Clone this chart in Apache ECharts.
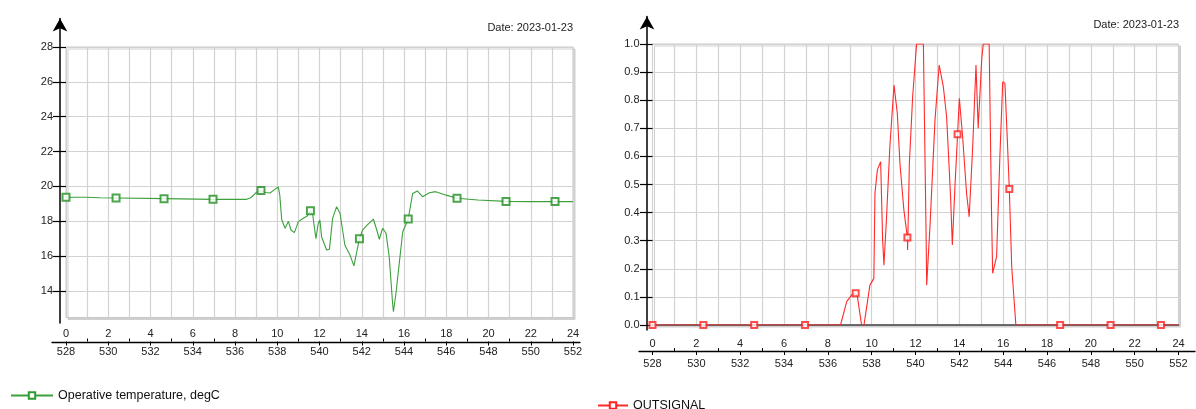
<!DOCTYPE html>
<html>
<head>
<meta charset="utf-8">
<script src="https://cdn.jsdelivr.net/npm/echarts@6/dist/echarts.min.js"></script>
<style>
html,body{margin:0;padding:0;background:#fff;}
#c{width:1196px;height:409px;}
</style>
</head>
<body>
<div id="c"></div>
<script>
// ---------- data ----------
const dateLabel = 'Date: 2023-01-23';
const hourOfYearOffset = 528;
const hourTicks = [0,2,4,6,8,10,12,14,16,18,20,22,24];
const hourMinorTicks = [1,3,5,7,9,11,13,15,17,19,21,23];
const tempTicks = [14,16,18,20,22,24,26,28];
const signalTicks = [0,0.1,0.2,0.3,0.4,0.5,0.6,0.7,0.8,0.9,1.0];

const tempName = 'Operative temperature, degC';
const tempHours = [0,1.0,1.6,2.37,4.64,6.96,8.55,8.75,9.0,9.23,9.45,9.66,9.85,10.05,10.12,10.21,10.37,10.53,10.65,10.81,11.0,11.23,11.42,11.57,11.68,11.83,11.94,12.02,12.1,12.34,12.47,12.62,12.81,12.97,13.2,13.44,13.63,13.89,14.04,14.23,14.55,14.71,14.83,14.99,15.15,15.3,15.46,15.5,15.62,15.81,15.94,16.2,16.41,16.63,16.88,17.2,17.5,18.0,18.51,19.5,20.83,22.0,24.0];
const tempValues = [19.38,19.38,19.35,19.34,19.3,19.26,19.26,19.35,19.65,19.77,19.65,19.62,19.8,19.97,19.5,18.1,17.6,18.0,17.5,17.35,17.98,18.17,18.3,18.6,18.36,17.0,17.88,18.07,17.1,16.35,16.4,18.17,18.84,18.46,16.64,16.07,15.44,17.0,17.5,17.75,18.13,17.5,16.97,17.6,17.31,15.97,13.3,12.81,13.87,15.97,17.4,18.13,19.6,19.74,19.41,19.64,19.7,19.5,19.32,19.22,19.14,19.13,19.13];
const tempMarkerHours = [0,2.37,4.64,6.96,9.23,11.57,13.89,16.2,18.51,20.83,23.15];
const tempMarkerValues = [19.38,19.34,19.3,19.26,19.77,18.6,17.0,18.13,19.32,19.14,19.13];

const sigName = 'OUTSIGNAL';
const sigHours = [0,8.58,8.86,9.09,9.27,9.35,9.54,9.65,9.92,10.1,10.15,10.26,10.41,10.5,10.56,10.68,10.83,11.02,11.17,11.29,11.47,11.63,11.64,11.72,11.87,12.05,12.36,12.48,12.51,12.66,12.89,13.08,13.27,13.42,13.6,13.68,13.8,13.92,14.0,14.15,14.33,14.45,14.61,14.76,14.86,15.02,15.09,15.36,15.47,15.52,15.7,15.85,15.98,16.08,16.19,16.28,16.39,16.58,24];
const sigValues = [0,0,0.083,0.107,0.113,0.1,0,0,0.142,0.166,0.469,0.552,0.581,0.302,0.213,0.385,0.635,0.854,0.753,0.575,0.409,0.311,0.267,0.575,0.812,1.0,1.0,0.338,0.142,0.35,0.73,0.925,0.848,0.741,0.457,0.285,0.492,0.679,0.807,0.67,0.469,0.385,0.635,0.925,0.7,0.943,1.0,1.0,0.397,0.184,0.243,0.599,0.866,0.86,0.658,0.484,0.207,0,0];
const sigMarkerHours = [0,2.32,4.64,6.96,9.27,11.63,13.92,16.28,18.6,20.9,23.2];
const sigMarkerValues = [0,0,0,0,0.113,0.311,0.679,0.484,0,0,0];

// ---------- helpers ----------
const pairs = (xs, ys) => xs.map((x, i) => [x, ys[i]]);
const FONT = 'Liberation Sans, Arial, sans-serif';
const GRIDC = '#d2d2d2';
const LBL = '#222';
const hidden = { show: false };

function dataGridAxes(gridIndex, offset, botMargin) {
  return [
    { gridIndex, type: 'value', position: 'bottom', min: 0, max: 24, interval: 1,
      axisLine: { show: false }, axisTick: hidden, axisLabel: hidden,
      splitLine: { show: true, lineStyle: { color: GRIDC, width: 1.2 } } },
    { gridIndex, type: 'value', position: 'bottom', offset, min: 0, max: 24, interval: 2,
      axisLine: { show: false },
      axisTick: { show: true, length: 4, lineStyle: { color: '#000' } },
      axisLabel: { show: true, margin: botMargin, color: LBL, fontFamily: FONT, fontSize: 11,
        formatter: v => String(v + hourOfYearOffset) },
      splitLine: hidden },
    { gridIndex, type: 'value', position: 'bottom', offset, min: 0, max: 24,
      axisLine: { show: false },
      axisTick: { show: true, inside: true, length: 3, customValues: hourMinorTicks, lineStyle: { color: '#000' } },
      axisLabel: { show: true, inside: true, margin: 2, color: LBL, fontFamily: FONT, fontSize: 11,
        customValues: hourTicks },
      splitLine: hidden }
  ];
}

const chart = echarts.init(document.getElementById('c'));
const gridBox = { show: true, backgroundColor: '#fff', borderColor: '#c8c8c8', borderWidth: 1,
  shadowColor: '#cfcfcf', shadowBlur: 0, shadowOffsetX: 2, shadowOffsetY: 2 };

// axis index map: left grid x 0..2, grid1 x3, grid2 x4, right grid x 5..7, grid4 x8, grid5 x9, zero-line x10
const option = {
  animation: false,
  title: [
    { text: dateLabel, right: 1196 - 573, top: 22, padding: 0,
      textStyle: { fontFamily: FONT, fontSize: 11, fontWeight: 'normal', color: '#222' } },
    { text: dateLabel, right: 1196 - 1179, top: 19, padding: 0,
      textStyle: { fontFamily: FONT, fontSize: 11, fontWeight: 'normal', color: '#222' } }
  ],
  legend: [
    { data: [tempName], left: 10, top: 389, padding: 0, itemWidth: 42, itemHeight: 8,
      textStyle: { fontFamily: FONT, fontSize: 12.5, color: '#111' } },
    { data: [sigName], left: 597, top: 399, padding: 0, itemWidth: 30, itemHeight: 8,
      textStyle: { fontFamily: FONT, fontSize: 12.5, color: '#111' } }
  ],
  grid: [
    Object.assign({ left: 66, top: 47, width: 507, height: 270.5 }, gridBox),
    { left: 60, top: 18.5, width: 513, height: 304.5, show: false },
    { left: 52, top: 300, width: 528, height: 42, show: false },
    Object.assign({ left: 652.5, top: 44, width: 526, height: 281 }, gridBox),
    { left: 647, top: 16.5, width: 531, height: 313.5, show: false },
    { left: 639, top: 300, width: 556, height: 51, show: false }
  ],
  xAxis: [
    ...dataGridAxes(0, 24, 5),
    { gridIndex: 1, type: 'value', position: 'bottom', show: false, min: 0, max: 1 },
    { gridIndex: 2, type: 'value', position: 'bottom', min: 0, max: 1,
      axisLine: { show: true, lineStyle: { color: '#000', width: 1.3 } },
      axisTick: hidden, axisLabel: hidden, splitLine: hidden },
    ...dataGridAxes(3, 26, 7),
    { gridIndex: 4, type: 'value', position: 'bottom', show: false, min: 0, max: 1 },
    { gridIndex: 5, type: 'value', position: 'bottom', min: 0, max: 1,
      axisLine: { show: true, lineStyle: { color: '#000', width: 1.3 } },
      axisTick: hidden, axisLabel: hidden, splitLine: hidden },
    { gridIndex: 3, type: 'value', position: 'bottom', min: 0, max: 24,
      axisLine: { show: true, lineStyle: { color: '#444', width: 1.5 } },
      axisTick: hidden, axisLabel: hidden, splitLine: hidden }
  ],
  yAxis: [
    { gridIndex: 0, type: 'value', position: 'left', min: 12.48, max: 28,
      axisLine: { show: false },
      axisTick: { show: true, length: 13, customValues: tempTicks, lineStyle: { color: '#000', width: 1.2 } },
      axisLabel: { show: true, margin: 13, customValues: tempTicks, color: LBL, fontFamily: FONT, fontSize: 11 },
      splitLine: { show: true, lineStyle: { color: GRIDC, width: 1.2 } } },
    { gridIndex: 1, type: 'value', position: 'left', min: 0, max: 1,
      axisLine: { show: true, symbol: ['none', 'arrow'], symbolSize: [11, 13], lineStyle: { color: '#000', width: 1.5 } },
      axisTick: hidden, axisLabel: hidden, splitLine: hidden },
    { gridIndex: 2, type: 'value', show: false, min: 0, max: 1 },
    { gridIndex: 3, type: 'value', position: 'left', min: 0, max: 1, interval: 0.1,
      axisLine: { show: false },
      axisTick: { show: true, length: 12.5, customValues: signalTicks, lineStyle: { color: '#000', width: 1.2 } },
      axisLabel: { show: true, margin: 13, customValues: signalTicks, color: LBL, fontFamily: FONT, fontSize: 11, formatter: v => v.toFixed(1) },
      splitLine: { show: true, lineStyle: { color: GRIDC, width: 1.2 } } },
    { gridIndex: 4, type: 'value', position: 'left', min: 0, max: 1,
      axisLine: { show: true, symbol: ['none', 'arrow'], symbolSize: [11, 13], lineStyle: { color: '#000', width: 1.5 } },
      axisTick: hidden, axisLabel: hidden, splitLine: hidden },
    { gridIndex: 5, type: 'value', show: false, min: 0, max: 1 }
  ],
  series: [
    { name: tempName, type: 'line', xAxisIndex: 0, yAxisIndex: 0, data: pairs(tempHours, tempValues),
      showSymbol: false, symbol: 'emptyRect', symbolSize: 7, color: '#2f9a2f',
      lineStyle: { color: '#3da03d', width: 1.1 }, z: 3 },
    { name: tempName + ' markers', type: 'scatter', xAxisIndex: 0, yAxisIndex: 0,
      data: pairs(tempMarkerHours, tempMarkerValues), symbol: 'emptyRect', symbolSize: 7,
      itemStyle: { color: '#1f8f1f', borderWidth: 1 }, z: 4 },
    { name: sigName, type: 'line', xAxisIndex: 5, yAxisIndex: 3, data: pairs(sigHours, sigValues),
      showSymbol: false, symbol: 'emptyRect', symbolSize: 6, color: '#ff2020',
      lineStyle: { color: '#ff2a2a', width: 1.1 }, z: 3 },
    { name: sigName + ' markers', type: 'scatter', xAxisIndex: 5, yAxisIndex: 3,
      data: pairs(sigMarkerHours, sigMarkerValues), symbol: 'emptyRect', symbolSize: 6,
      itemStyle: { color: '#ff2020', borderWidth: 1 }, z: 4 }
  ]
};
chart.setOption(option);
</script>
</body>
</html>
